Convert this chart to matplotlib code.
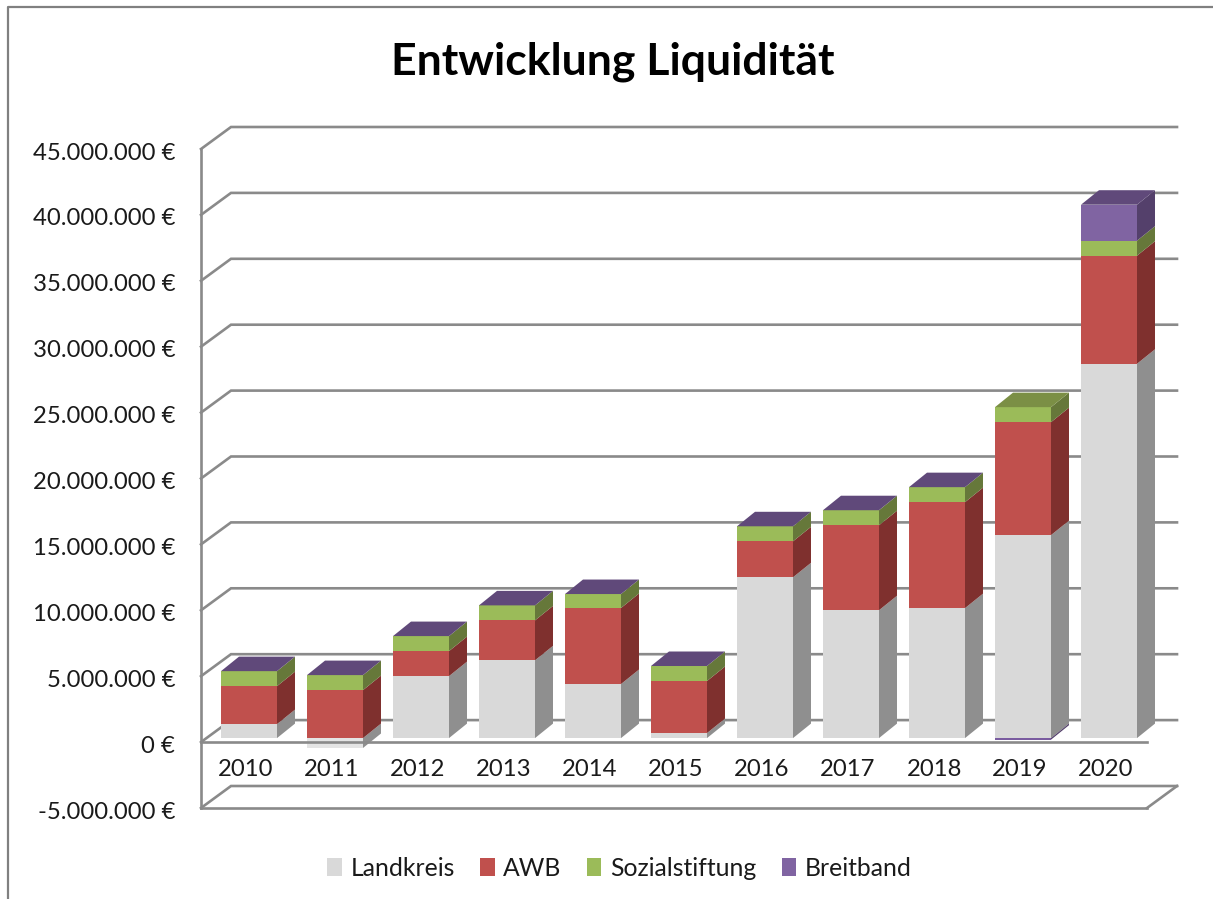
#!/usr/bin/env python3
import matplotlib
matplotlib.use("Agg")
import matplotlib.pyplot as plt
from matplotlib.lines import Line2D
from matplotlib.patches import Patch, Polygon
from matplotlib.transforms import ScaledTranslation

plt.rcParams['font.family'] = ['Lato', 'DejaVu Sans']

# Values in million euro
years = ['2010', '2011', '2012', '2013', '2014', '2015', '2016', '2017', '2018', '2019', '2020']
landkreis = [1.06, -0.75, 4.70, 5.90, 4.10, 0.38, 12.20, 9.70, 9.86, 15.40, 28.40]
awb = [2.88, 3.64, 1.90, 3.03, 5.77, 3.95, 2.73, 6.45, 8.04, 8.57, 8.20]
sozialstiftung = [1.14, 1.14, 1.14, 1.14, 1.06, 1.14, 1.14, 1.14, 1.14, 1.14, 1.14]
breitband = [0, 0, 0, 0, 0, 0, 0, 0, 0, -0.12, 2.73]

series_names = ['Landkreis', 'AWB', 'Sozialstiftung', 'Breitband']
series_values = [landkreis, awb, sozialstiftung, breitband]

# front, side, top colours per series
front_colors = ['#d9d9d9', '#c0504d', '#9bbb59', '#8064a2']
side_colors = ['#8f8f8f', '#7f302e', '#66783a', '#54406b']
top_colors = ['#a3a3a3', '#983c3a', '#7b8f45', '#60497a']
negative_colors = ['#e4e4e4', '#c0504d', '#9bbb59', '#7a5ca0']
line_color = '#8a8a8a'

W, H = 1213, 899
# front plane of the chart box, pixels
LEFT, RIGHT, TOP, BOTTOM = 201, 1147, 149, 808
px_x = 11 / (RIGHT - LEFT)
px_y = 50 / (BOTTOM - TOP)

# 3D look, converted from pixels to data units
wall_dx, wall_dy = 30 * px_x, 22 * px_y
bar_shift_x, bar_shift_y = 5 * px_x, 4 * px_y
bar_dx, bar_dy = 18 * px_x, 14.5 * px_y
bar_width = 56 * px_x


def draw_block(ax, x0, v0, v1, idx, negative=False):
    x1 = x0 + bar_width
    front = negative_colors[idx] if negative else front_colors[idx]
    ax.add_patch(Polygon([(x1, v0), (x1 + bar_dx, v0 + bar_dy), (x1 + bar_dx, v1 + bar_dy), (x1, v1)],
                         fc=side_colors[idx], ec='none', zorder=3, clip_on=False))
    ax.add_patch(Polygon([(x0, v0), (x1, v0), (x1, v1), (x0, v1)],
                         fc=front, ec='none', zorder=3, clip_on=False))


def draw_top(ax, x0, v, idx):
    x1 = x0 + bar_width
    ax.add_patch(Polygon([(x0, v), (x1, v), (x1 + bar_dx, v + bar_dy), (x0 + bar_dx, v + bar_dy)],
                         fc=top_colors[idx], ec='none', zorder=3, clip_on=False))


def main():
    fig = plt.figure(figsize=(W / 100, H / 100), dpi=100)
    ax = fig.add_axes([LEFT / W, 1 - BOTTOM / H, (RIGHT - LEFT) / W, (BOTTOM - TOP) / H])
    ax.set_xlim(-0.5, 10.5)
    ax.set_ylim(-5, 45)
    for spine in ax.spines.values():
        spine.set_visible(False)

    # outer chart frame
    fig.add_artist(Line2D([8 / W, 8 / W, 1], [0, 1 - 7 / H, 1 - 7 / H], color='#808080', lw=1.6))

    # walls and gridlines
    xl, xr = -0.5, 10.5
    lw = 1.9
    for v in range(-5, 50, 5):
        ax.plot([xl, xl + wall_dx, xr + wall_dx], [v, v + wall_dy, v + wall_dy],
                color=line_color, lw=lw, zorder=1, clip_on=False, solid_joinstyle='miter')
    ax.plot([xl, xl], [-5, 45], color=line_color, lw=lw, zorder=2, clip_on=False)
    ax.plot([xl, xr], [-5, -5], color=line_color, lw=lw, zorder=2, clip_on=False)
    ax.plot([xr, xr + wall_dx], [-5, -5 + wall_dy], color=line_color, lw=lw, zorder=2, clip_on=False)

    # stacked bars, left to right
    for i in range(len(years)):
        x0 = i - bar_width / 2 + bar_shift_x
        pos = bar_shift_y
        neg = bar_shift_y
        top_idx = 0
        for idx, values in enumerate(series_values):
            val = values[i]
            if val >= 0:
                draw_block(ax, x0, pos, pos + val, idx)
                pos += val
                top_idx = idx
            else:
                draw_block(ax, x0, neg, neg + val, idx, negative=True)
                neg += val
        draw_top(ax, x0, pos, top_idx)

    # zero line runs over the bars
    ax.plot([xl, xr], [0, 0], color=line_color, lw=lw, zorder=4, clip_on=False)

    ax.set_yticks(range(-5, 50, 5))
    ax.set_yticklabels([f"{v * 1000000:,.0f} €".replace(',', '.') for v in range(-5, 50, 5)])
    ax.set_xticks(range(len(years)))
    ax.set_xticklabels(years)
    ax.tick_params(axis='y', length=0, pad=18.5, labelsize=17.2, labelcolor='#1a1a1a')
    ax.tick_params(axis='x', length=0, pad=-35, labelsize=17.2, labelcolor='#1a1a1a')

    # small nudges so the labels sit where the reference has them
    for label in ax.get_yticklabels():
        label.set_transform(label.get_transform() + ScaledTranslation(0, -1.5 / 72, fig.dpi_scale_trans))
    for label in ax.get_xticklabels():
        label.set_transform(label.get_transform() + ScaledTranslation(1.5 / 72, 0, fig.dpi_scale_trans))

    fig.text(613 / W, 1 - 61.5 / H, 'Entwicklung Liquidität', fontsize=32, fontweight='bold',
             ha='center', va='center', color='black')

    handles = [Patch(fc=c, ec='none') for c in front_colors]
    fig.legend(handles, series_names, loc='center', bbox_to_anchor=(619.5 / W, 1 - 868 / H), ncol=4,
               frameon=False, fontsize=17.8, handlelength=0.58, handleheight=0.7,
               handletextpad=0.35, columnspacing=1.03, labelcolor='#1a1a1a')

    fig.savefig('out.png', dpi=100, facecolor='white')


if __name__ == "__main__":
    main()
